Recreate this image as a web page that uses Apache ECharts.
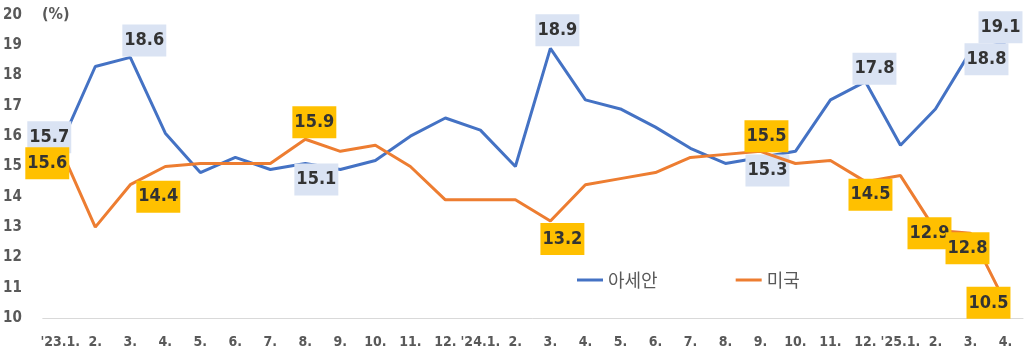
<!DOCTYPE html>
<html><head><meta charset="utf-8">
<script src="https://cdn.jsdelivr.net/npm/echarts@6/dist/echarts.min.js"></script>
<style>html,body{margin:0;padding:0;background:#fff}#c{width:1026px;height:357px}</style>
</head><body><div id="c"></div>
<script>
var categories = ["'23.1.","2.","3.","4.","5.","6.","7.","8.","9.","10.","11.","12.","'24.1.","2.","3.","4.","5.","6.","7.","8.","9.","10.","11.","12.","'25.1.","2.","3.","4."];
var asean = [15.7,18.3,18.6,16.1,14.8,15.3,14.9,15.1,14.9,15.2,16.0,16.6,16.2,15.0,18.9,17.2,16.9,16.3,15.6,15.1,15.3,15.5,17.2,17.8,15.7,16.9,18.8,19.1];
var usa = [15.6,13.0,14.4,15.0,15.1,15.1,15.1,15.9,15.5,15.7,15.0,13.9,13.9,13.9,13.2,14.4,14.6,14.8,15.3,15.4,15.5,15.1,15.2,14.5,14.7,12.9,12.8,10.5];
var yTicks = [10,11,12,13,14,15,16,17,18,19,20];
var seriesNames = ['아세안','미국'];

// label placement (index -> offset in px), kept apart from data
var aseanLabels = {0:[-11,-8],2:[14,-17],7:[11,16],14:[7,-18],20:[7,13],23:[9,-13],26:[16,8],27:[-5,-15]};
var usaLabels = {0:[-13,15],2:[28,12],7:[9,-17],14:[12,18],20:[6,-15],23:[5,13],25:[-6,3],26:[-3,15],27:[-17,0]};

var labelFont = '"DejaVu Sans Condensed","DejaVu Sans",sans-serif';

function build(vals, labels, bg) {
  return vals.map(function(v, i) {
    if (labels[i]) {
      return {value: v, label: {show: true, position: 'inside', offset: labels[i],
        formatter: function(p){ return p.value.toFixed(1); },
        backgroundColor: bg, color: '#333333', fontFamily: labelFont, fontWeight: 'bold',
        fontSize: 18, padding: [4, 2, 3, 2], lineHeight: 25}};
    }
    return {value: v};
  });
}

var chart = echarts.init(document.getElementById('c'), null, {renderer: 'canvas'});
chart.setOption({
  animation: false,
  grid: {left: 41, right: 3, top: 15, bottom: 39, containLabel: false},
  legend: {show: true, left: 572, top: 266, itemWidth: 26, itemHeight: 3, itemGap: 78,
    icon: 'rect', textStyle: {color: '#595959', fontSize: 18, fontFamily: '"Noto Sans CJK KR",sans-serif'},
    data: seriesNames},
  xAxis: {type: 'category', data: categories, boundaryGap: true,
    axisLine: {lineStyle: {color: '#d9d9d9', width: 1}}, axisTick: {show: false},
    axisLabel: {interval: 0, color: '#595959', fontWeight: 'bold', fontSize: 14, margin: 17, fontFamily: labelFont}},
  yAxis: {type: 'value', min: yTicks[0], max: yTicks[yTicks.length-1], interval: 1,
    axisLine: {show: false}, axisTick: {show: false}, splitLine: {show: false},
    axisLabel: {color: '#595959', fontWeight: 'bold', fontSize: 15, margin: 21, fontFamily: labelFont}},
  graphic: [{type: 'text', left: 42, top: 7, style: {text: '(%)', fill: '#595959', font: 'bold 16px ' + labelFont}}],
  series: [
    {name: seriesNames[0], type: 'line', data: build(asean, aseanLabels, '#DAE3F3'),
     lineStyle: {color: '#4472C4', width: 3}, itemStyle: {color: '#4472C4'},
     symbol: 'circle', symbolSize: 0.1, showAllSymbol: true, z: 2},
    {name: seriesNames[1], type: 'line', data: build(usa, usaLabels, '#FFC000'),
     lineStyle: {color: '#ED7D31', width: 3}, itemStyle: {color: '#ED7D31'},
     symbol: 'circle', symbolSize: 0.1, showAllSymbol: true, z: 3}
  ]
});
</script></body></html>
